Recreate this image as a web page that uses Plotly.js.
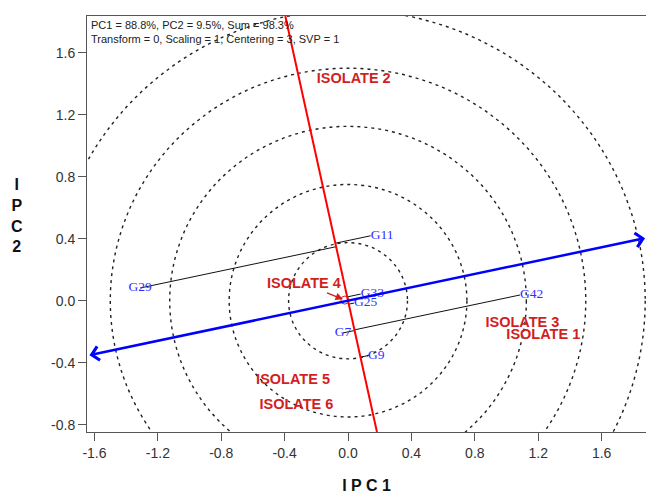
<!DOCTYPE html>
<html>
<head>
<meta charset="utf-8">
<script src="https://cdn.plot.ly/plotly-3.0.1.min.js"></script>
<style>html,body{margin:0;padding:0;background:#fff;}#chart{width:646px;height:496px;}</style>
</head>
<body>
<div id="chart"></div>
<script>
// Genotype scores (PC1, PC2)
var genoNames = ['G11', 'G29', 'G42', 'G7', 'G9', 'G33', 'G25'];
var genoPC1   = [0.143, -1.312, 1.085, -0.032, 0.126, 0.080, 0.038];
var genoPC2   = [0.419, 0.082, 0.037, -0.208, -0.354, 0.043, -0.015];
var genoTextPos = ['middle right', 'middle center', 'middle right', 'middle center', 'middle right', 'middle right', 'middle right'];

// Environment (isolate) label positions
var envNames = ['ISOLATE 1', 'ISOLATE 2', 'ISOLATE 3', 'ISOLATE 5', 'ISOLATE 6'];
var envPC1   = [1.232, 0.036, 1.100, -0.347, -0.326];
var envPC2   = [-0.221, 1.428, -0.146, -0.511, -0.673];

// ISOLATE 4 point (near origin) and its label position
var iso4Name  = 'ISOLATE 4';
var iso4Point = [-0.02, 0.004];
var iso4Label = [-0.28, 0.112];

// Average environment axis direction (PC2/PC1 slope)
var aeaSlope = 0.2155;

// Concentric circle radii
var circleRadii = [0.375, 0.75, 1.125, 1.5, 1.875];

// Axes
var xRange = [-1.647, 1.88];
var yRange = [-0.847, 1.837];
var xTicks = [-1.6, -1.2, -0.8, -0.4, 0.0, 0.4, 0.8, 1.2, 1.6];
var xTickText = ['-1.6', '-1.2', '-0.8', '-0.4', '0.0', '0.4', '0.8', '1.2', '1.6'];
var yTicks = [-0.8, -0.4, 0.0, 0.4, 0.8, 1.2, 1.6];
var yTickText = ['-0.8', '-0.4', '0.0', '0.4', '0.8', '1.2', '1.6'];

var infoLines = ['PC1 = 88.8%, PC2 = 9.5%, Sum = 98.3%', 'Transform = 0, Scaling = 1, Centering = 3, SVP = 1'];

var ENV_COLOR = '#d11f1f';
var GENO_COLOR = '#3030ff';

// ATC ordinate direction (perpendicular to AEA)
var n = Math.sqrt(1 + aeaSlope * aeaSlope);
var ux = -aeaSlope / n, uy = 1 / n;

var traces = [];

// projection lines from genotypes to ATC ordinate
genoNames.forEach(function (g, i) {
  var s = genoPC1[i] * ux + genoPC2[i] * uy;
  traces.push({
    x: [genoPC1[i], s * ux], y: [genoPC2[i], s * uy],
    mode: 'lines', line: {color: '#111', width: 1},
    hoverinfo: 'skip', showlegend: false
  });
});

// ATC ordinate (red line)
traces.push({
  x: [-aeaSlope * yRange[0], -aeaSlope * yRange[1]],
  y: [yRange[0], yRange[1]],
  mode: 'lines', line: {color: '#ff0000', width: 2},
  hoverinfo: 'skip', showlegend: false
});

// genotype labels
traces.push({
  x: genoPC1, y: genoPC2, text: genoNames,
  mode: 'text', textposition: genoTextPos,
  textfont: {family: 'Liberation Serif, Times New Roman, serif', size: 13.5, color: GENO_COLOR},
  hoverinfo: 'text', showlegend: false
});

// environment labels
traces.push({
  x: envPC1, y: envPC2, text: envNames,
  mode: 'text', textposition: 'middle center',
  textfont: {family: 'Liberation Sans, Arial, sans-serif', size: 14.5, color: ENV_COLOR, weight: 'bold'},
  hoverinfo: 'text', showlegend: false
});

// ISOLATE 4 small marker
traces.push({
  x: [iso4Point[0]], y: [iso4Point[1]],
  mode: 'markers', marker: {symbol: 'circle-open', size: 8, color: ENV_COLOR, line: {width: 1}},
  hoverinfo: 'skip', showlegend: false
});

var shapes = circleRadii.map(function (r) {
  return {
    type: 'circle', xref: 'x', yref: 'y', x0: -r, x1: r, y0: -r, y1: r,
    line: {color: '#222', width: 1.4, dash: '3px,4px'}, layer: 'below'
  };
});

var pad = 0.006;
var xl = xRange[0] + pad, xr = xRange[1] - pad;
var annotations = [
  { // AEA double arrow
    x: xr, y: aeaSlope * xr, ax: xl, ay: aeaSlope * xl,
    xref: 'x', yref: 'y', axref: 'x', ayref: 'y', text: '',
    showarrow: true, arrowside: 'end+start', arrowhead: 4, startarrowhead: 4,
    arrowsize: 1.1, startarrowsize: 1.1, arrowwidth: 2.5, arrowcolor: '#0000ff',
    standoff: 0, startstandoff: 0
  },
  { // ISOLATE 4 label with arrow
    x: iso4Point[0], y: iso4Point[1], ax: iso4Label[0], ay: iso4Label[1],
    xref: 'x', yref: 'y', axref: 'x', ayref: 'y', text: iso4Name,
    font: {family: 'Liberation Sans, Arial, sans-serif', size: 14.5, color: ENV_COLOR, weight: 'bold'},
    showarrow: true, arrowhead: 2, arrowsize: 1, arrowwidth: 1.5, arrowcolor: ENV_COLOR, standoff: 2
  },
  { // info text
    xref: 'paper', yref: 'paper', x: 0.004, y: 0.998, xanchor: 'left', yanchor: 'top',
    align: 'left', showarrow: false, text: infoLines.join('<br>'),
    font: {family: 'Liberation Sans, Arial, sans-serif', size: 11, color: '#222'}
  },
  { // y axis title (stacked letters)
    xref: 'paper', yref: 'paper', x: -0.125, y: 0.52, xanchor: 'center', yanchor: 'middle',
    showarrow: false, text: 'I<br>P<br>C<br>2', align: 'center',
    font: {family: 'Liberation Sans, Arial, sans-serif', size: 16, color: '#111', weight: 'bold'}
  }
];

var axisCommon = {
  showgrid: false, zeroline: false, showline: true, linecolor: '#555', linewidth: 1,
  mirror: true, ticks: 'outside', ticklen: 8, tickcolor: '#555', tickwidth: 1,
  tickfont: {family: 'Liberation Sans, Arial, sans-serif', size: 14, color: '#333'},
  tickmode: 'array'
};

var layout = {
  width: 646, height: 496,
  margin: {l: 87, r: 0, t: 16, b: 64},
  paper_bgcolor: '#fff', plot_bgcolor: '#fff',
  xaxis: Object.assign({}, axisCommon, {
    range: xRange, tickvals: xTicks, ticktext: xTickText,
    title: {text: 'I P C 1', standoff: 20, font: {family: 'Liberation Sans, Arial, sans-serif', size: 16, color: '#111', weight: 'bold'}}
  }),
  yaxis: Object.assign({}, axisCommon, {range: yRange, tickvals: yTicks, ticktext: yTickText}),
  shapes: shapes,
  annotations: annotations,
  showlegend: false
};

Plotly.newPlot('chart', traces, layout, {displayModeBar: false, staticPlot: true});
</script>
</body>
</html>
